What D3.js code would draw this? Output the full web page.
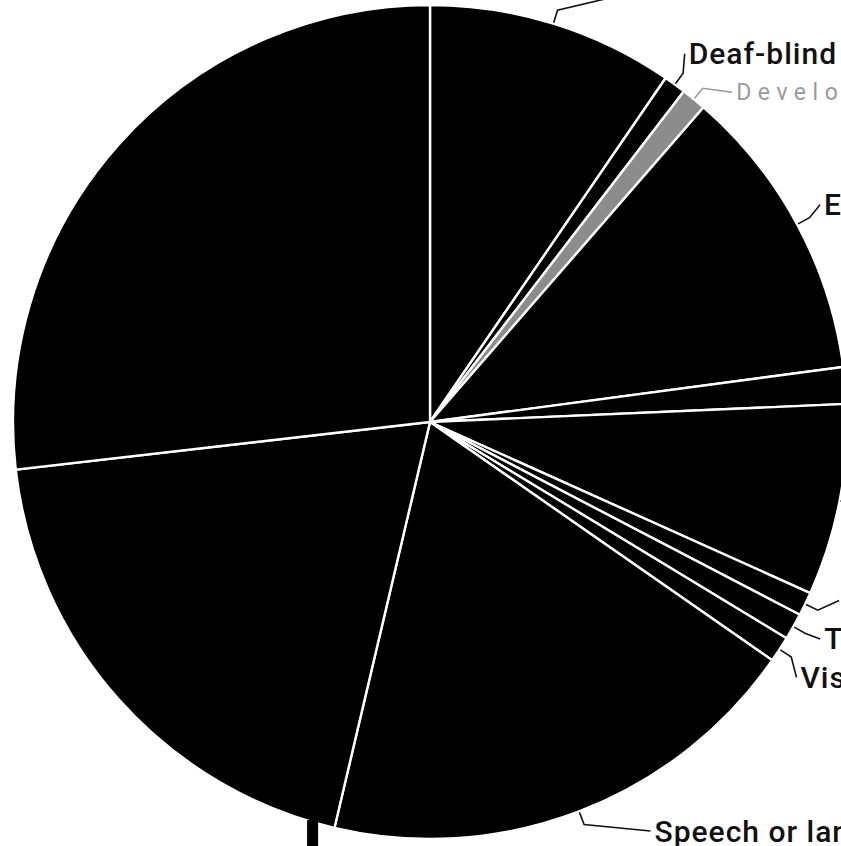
<!DOCTYPE html>
<html><head><meta charset="utf-8">
<script src="https://cdn.jsdelivr.net/npm/d3@7"></script>
<style>html,body{margin:0;padding:0;background:#fff;overflow:hidden}</style>
</head><body>
<svg id="chart" width="841" height="846"></svg>
<script>
// ---- data (percent of total) ----
const categories = [
  "Autism", "Deaf-blind", "Developmental delay", "Emotional disturbance",
  "Hearing impairment", "Intellectual disability", "Orthopedic impairment",
  "Traumatic brain injury", "Visual impairment", "Speech or language impairment",
  "Other health impairment", "Specific learning disability"
];
const values = [9.56, 0.86, 0.97, 11.5, 1.42, 7.42, 0.92, 1.03, 1.0, 19.0, 19.5, 26.82];
const highlighted = ["Developmental delay"];

// ---- layout ----
const W = 841, H = 846, cx = 430, cy = 422, R = 417;
const LABEL_R_Y = 450, LABEL_R_X = 450, GAP = 38.5, Y_CLAMP = 390, Y_SHIFT = -4;
const Y_MAX = H - cy - 15;

const svg = d3.select("#chart");
const g = svg.append("g").attr("transform", `translate(${cx},${cy})`);

const data = categories.map((c, i) => ({ name: c, value: values[i] }));
const pie = d3.pie().sort(null).value(d => d.value);
const arcs = pie(data);
const arc = d3.arc().innerRadius(0).outerRadius(R);

g.selectAll("path.slice").data(arcs).join("path")
  .attr("class", "slice")
  .attr("d", arc)
  .attr("fill", d => highlighted.includes(d.data.name) ? "#8c8c8c" : "#000")
  .attr("stroke", "#fff")
  .attr("stroke-width", 2.4);

// label placement (outer labels with leader lines, relaxed vertically;
// in the upper half crowded labels are pushed down toward the equator)
const labels = arcs.map(d => {
  const a = (d.startAngle + d.endAngle) / 2;
  return { d, a, side: Math.sin(a) >= 0 ? 1 : -1, y: -LABEL_R_Y * Math.cos(a) };
});
[1, -1].forEach(side => {
  const L = labels.filter(l => l.side === side).sort((p, q) => p.y - q.y);
  for (let it = 0; it < 300; it++) {
    let moved = false;
    for (let k = 1; k < L.length; k++) {
      const diff = L[k].y - L[k - 1].y;
      if (diff < GAP - 1e-6) {
        if (L[k - 1].y < 0 && L[k].y < 0) {
          L[k].y += GAP - diff;
        } else {
          const s = (GAP - diff) / 2;
          L[k].y += s; L[k - 1].y -= s;
        }
        moved = true;
      }
    }
    if (!moved) break;
  }
  L.forEach(l => { l.y = Math.min(l.y + Y_SHIFT, Y_MAX); });
});
labels.forEach(l => {
  const dyx = Math.max(-Y_CLAMP, Math.min(Y_CLAMP, l.y));
  l.x = Math.sqrt(Math.max(0, LABEL_R_X * LABEL_R_X - dyx * dyx));
});

// only the right-hand labels fall inside this frame
const lg = g.append("g");
labels.filter(l => l.side > 0).forEach(l => {
  const gray = highlighted.includes(l.d.data.name);
  const col = gray ? "#9a9a9a" : "#111";
  const p0 = [(R + 1) * Math.sin(l.a), -(R + 1) * Math.cos(l.a)];
  const p1 = [(R + 14) * Math.sin(l.a), -(R + 14) * Math.cos(l.a)];
  const p2 = [l.x - 4, l.y];
  lg.append("path")
    .attr("d", d3.line()([p0, p1, p2]))
    .attr("fill", "none").attr("stroke", col).attr("stroke-width", 1.6);
  lg.append("text")
    .attr("x", l.x).attr("y", l.y)
    .attr("dominant-baseline", "central")
    .attr("text-anchor", "start")
    .attr("font-family", "Roboto, 'Noto Sans', sans-serif")
    .attr("font-size", gray ? 23 : 30)
    .attr("font-weight", gray ? 400 : 500)
    .attr("letter-spacing", gray ? 6.5 : 1)
    .attr("fill", col)
    .text(l.d.data.name);
});

// dark bar below the pie's bottom edge, as in the source image
const barA = 3.427;
svg.append("rect")
  .attr("x", cx + R * Math.sin(barA) - 5.5)
  .attr("y", cy - R * Math.cos(barA) - 2)
  .attr("width", 11)
  .attr("height", H - (cy - R * Math.cos(barA) - 2))
  .attr("fill", "#000");
</script>
</body></html>
